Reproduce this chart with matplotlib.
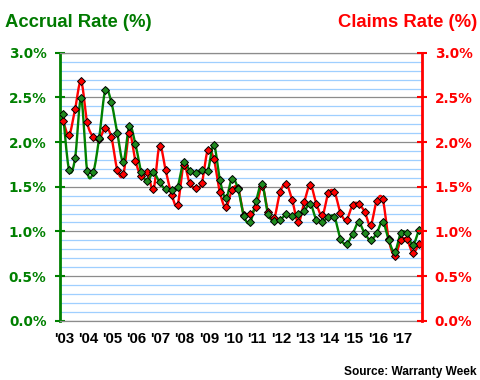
"""
Warranty accrual rate vs. claims rate, quarterly 2003-2017.
Dual-axis smoothed line chart in the Warranty Week style.
"""

import matplotlib
matplotlib.use("Agg")
import matplotlib.pyplot as plt
import numpy as np
from matplotlib.ticker import FixedLocator, FuncFormatter, MultipleLocator

# ── Data (% of product sales, one value per quarter) ─────────────────────────
YEAR_LABELS = ["'03", "'04", "'05", "'06", "'07", "'08", "'09", "'10",
               "'11", "'12", "'13", "'14", "'15", "'16", "'17"]
FIRST_YEAR = 2003

ACCRUAL = [2.32, 1.69, 1.82, 2.49, 1.68, 1.66, 2.05, 2.58,
           2.45, 2.10, 1.78, 2.18, 1.98, 1.66, 1.57, 1.66,
           1.55, 1.47, 1.46, 1.50, 1.78, 1.68, 1.65, 1.69,
           1.68, 1.97, 1.58, 1.37, 1.59, 1.48, 1.17, 1.10,
           1.34, 1.53, 1.19, 1.12, 1.13, 1.19, 1.17, 1.19,
           1.23, 1.31, 1.13, 1.11, 1.16, 1.16, 0.92, 0.86,
           0.97, 1.10, 0.98, 0.90, 0.98, 1.11, 0.90, 0.77,
           0.98, 0.98, 0.85, 1.02]

CLAIMS = [2.24, 2.08, 2.37, 2.68, 2.22, 2.06, 2.03, 2.16,
          2.06, 1.69, 1.64, 2.10, 1.79, 1.62, 1.66, 1.47,
          1.96, 1.69, 1.41, 1.30, 1.74, 1.54, 1.49, 1.54,
          1.91, 1.81, 1.44, 1.27, 1.46, 1.49, 1.18, 1.20,
          1.27, 1.51, 1.22, 1.15, 1.44, 1.53, 1.35, 1.10,
          1.33, 1.52, 1.31, 1.18, 1.43, 1.44, 1.21, 1.13,
          1.30, 1.31, 1.22, 1.07, 1.34, 1.36, 0.91, 0.73,
          0.90, 0.91, 0.76, 0.86]

GREEN = "#008000"
GREEN_MK = "#1f8a1f"
RED = "#FF0000"
GRID_GREY = "#8c8c8c"
GRID_BLUE = "#9fcfff"

TICK_FONT = dict(family="DejaVu Sans", weight="bold", size=9.8)
ARIAL_B = "Liberation Sans"


def smooth(x, y, n=16):
    """Bezier smoothing through the points (same look as Excel's smoothed line)."""
    x = np.asarray(x, float)
    y = np.asarray(y, float)
    px = np.concatenate([[x[0]], x, [x[-1]]])
    py = np.concatenate([[y[0]], y, [y[-1]]])
    t = np.linspace(0, 1, n)[:, None]
    xs, ys = [], []
    for i in range(1, len(px) - 2):
        p0 = np.array([px[i], py[i]])
        p3 = np.array([px[i + 1], py[i + 1]])
        p1 = p0 + (np.array([px[i + 1], py[i + 1]]) - np.array([px[i - 1], py[i - 1]])) / 6
        p2 = p3 - (np.array([px[i + 2], py[i + 2]]) - np.array([px[i], py[i]])) / 6
        seg = ((1 - t) ** 3) * p0 + 3 * ((1 - t) ** 2) * t * p1 \
            + 3 * (1 - t) * t ** 2 * p2 + t ** 3 * p3
        xs.append(seg[:, 0])
        ys.append(seg[:, 1])
    return np.concatenate(xs), np.concatenate(ys)


def pct(v, _pos):
    return f"{v:.1f}%"


fig = plt.figure(figsize=(4.8, 3.8), dpi=100)
ax = fig.add_axes([0.125, 0.156, 0.754, 0.705])
ax2 = ax.twinx()

n_years = len(YEAR_LABELS)
quarter_x = FIRST_YEAR + (np.arange(len(ACCRUAL)) + 0.5) / 4

# claims first, accrual drawn on top
for vals, col, mk in [(CLAIMS, RED, RED), (ACCRUAL, GREEN, GREEN_MK)]:
    sx, sy = smooth(quarter_x, vals)
    ax.plot(sx, sy, color=col, lw=1.7, zorder=3, solid_capstyle="round")
    ax.plot(quarter_x, vals, ls="none", marker="D", ms=4.2,
            mfc=mk, mec="black", mew=0.7, zorder=4)

for a in (ax, ax2):
    a.set_ylim(0, 3.0)
    a.set_xlim(FIRST_YEAR, FIRST_YEAR + n_years)
    a.yaxis.set_major_locator(MultipleLocator(0.5))
    a.yaxis.set_major_formatter(FuncFormatter(pct))

# gridlines: grey at 0.5 %, light blue at 0.1 %, grey at each year
ax.yaxis.set_minor_locator(MultipleLocator(0.1))
ax.yaxis.grid(True, which="minor", color=GRID_BLUE, lw=0.9, zorder=0)
ax.yaxis.grid(True, which="major", color=GRID_GREY, lw=0.9, zorder=1)
ax.xaxis.grid(True, which="major", color=GRID_GREY, lw=0.9, zorder=1)
ax.set_axisbelow(True)

year_edges = FIRST_YEAR + np.arange(n_years + 1)
ax.xaxis.set_major_locator(FixedLocator(year_edges))
ax.xaxis.set_minor_locator(FixedLocator(year_edges[:-1] + 0.17))
ax.set_xticklabels([], minor=False)
ax.set_xticklabels(YEAR_LABELS, minor=True, fontfamily=ARIAL_B,
                   fontweight="bold", fontsize=10.8)
ax.tick_params(axis="x", which="major", length=3, width=0.9, color=GRID_GREY,
               direction="out")
ax.tick_params(axis="x", which="minor", length=0, pad=8)

# left (accrual) axis
ax.tick_params(axis="y", which="major", direction="inout", length=6.5,
               width=1.5, color=GREEN, labelcolor=GREEN, pad=6.5)
ax.tick_params(axis="y", which="minor", length=0)
for lab in ax.get_yticklabels():
    lab.set_fontproperties(TICK_FONT)
    lab.set_fontweight("bold")
ax.spines["left"].set_color(GREEN)
ax.spines["left"].set_linewidth(2.0)
ax.spines["right"].set_visible(False)
ax.spines["top"].set_color(GRID_GREY)
ax.spines["top"].set_linewidth(0.9)
ax.spines["bottom"].set_color(GRID_GREY)
ax.spines["bottom"].set_linewidth(0.9)

# right (claims) axis
ax2.tick_params(axis="y", which="major", direction="inout", length=6.5,
                width=1.5, color=RED, labelcolor=RED, pad=6)
ax2.tick_params(axis="y", which="minor", length=0)
for lab in ax2.get_yticklabels():
    lab.set_fontproperties(TICK_FONT)
    lab.set_fontweight("bold")
ax2.spines["right"].set_color(RED)
ax2.spines["right"].set_linewidth(2.0)
ax2.spines["left"].set_visible(False)
ax2.spines["top"].set_visible(False)
ax2.spines["bottom"].set_visible(False)
ax2.set_xticks([])

fig.text(0.010, 0.930, "Accrual Rate (%)", color="#007a00", fontsize=13.3,
         fontweight="bold", family=ARIAL_B, ha="left", va="baseline")
fig.text(0.994, 0.930, "Claims Rate (%)", color=RED, fontsize=13.3,
         fontweight="bold", family=ARIAL_B, ha="right", va="baseline")
fig.text(0.992, 0.012, "Source: Warranty Week", color="black", fontsize=8.6,
         fontweight="bold", family=ARIAL_B, ha="right", va="baseline")

fig.savefig("out.png", dpi=100)
